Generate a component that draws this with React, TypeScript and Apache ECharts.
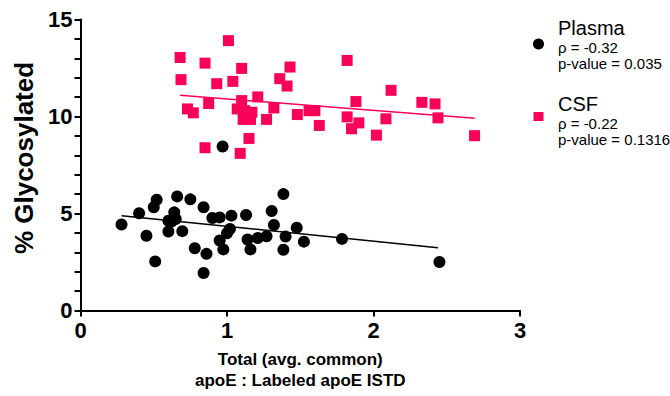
import React, { useEffect, useRef } from "react";
import * as echarts from "echarts";

const plasmaX = [0.28, 0.40, 0.45, 0.51, 0.50, 0.52, 0.60, 0.60, 0.64, 0.65, 0.62, 0.66, 0.695, 0.75, 0.78, 0.84, 0.86, 0.84, 0.90, 0.95, 0.95, 0.975, 1.02, 1.00, 1.03, 1.13, 1.14, 1.16, 1.21, 1.27, 1.305, 1.32, 1.385, 1.40, 1.385, 1.476, 1.525, 1.785, 2.45, 0.97];
const plasmaY = [4.43, 5.01, 3.85, 2.53, 5.32, 5.71, 4.07, 4.63, 5.06, 4.72, 4.58, 5.88, 4.09, 5.73, 3.21, 5.32, 2.92, 1.93, 4.77, 4.80, 3.61, 3.15, 4.20, 3.98, 4.89, 4.92, 3.66, 3.15, 3.74, 3.83, 5.13, 4.41, 6.0, 3.81, 3.13, 4.27, 3.55, 3.69, 2.5, 8.45];

const csfX = [0.68, 1.01, 0.85, 1.10, 0.686, 0.93, 1.04, 1.36, 1.41, 1.43, 0.73, 0.77, 0.875, 1.21, 1.10, 1.07, 1.12, 1.17, 1.11, 1.16, 1.27, 1.32, 0.85, 1.15, 1.09, 1.82, 2.12, 1.88, 2.33, 2.42, 1.48, 1.56, 1.60, 1.63, 1.82, 1.90, 1.85, 2.085, 2.02, 2.44, 2.69];
const csfY = [13.04, 13.91, 12.75, 12.48, 11.9, 11.69, 11.81, 11.95, 11.57, 12.55, 10.39, 10.19, 10.67, 11.01, 10.82, 10.39, 10.30, 10.22, 9.85, 9.85, 9.85, 10.44, 8.39, 8.87, 8.10, 12.89, 11.35, 10.77, 10.73, 10.65, 10.10, 10.30, 10.30, 9.54, 9.98, 9.67, 9.37, 9.88, 9.04, 9.93, 9.01];

const plasmaFitX = [0.28, 2.44];
const plasmaFitY = [4.89, 3.23];
const csfFitX = [0.68, 2.69];
const csfFitY = [11.09, 9.91];

const xTicks = [0, 1, 2, 3];
const yTicks = [0, 5, 10, 15];

const legendItems = [
  { name: "Plasma", rho: "ρ = -0.32", p: "p-value = 0.035" },
  { name: "CSF", rho: "ρ = -0.22", p: "p-value = 0.1316" },
];

const PINK = "#FA0059";
const FONT = "'Liberation Sans', Arial, sans-serif";

const zip = (xs: number[], ys: number[]) => xs.map((x, i) => [x, ys[i]]);

export default function App() {
  const ref = useRef<HTMLDivElement>(null);
  useEffect(() => {
    if (!ref.current) return;
    const chart = echarts.init(ref.current, null, { renderer: "svg" });
    const axisCommon = {
      axisLine: { show: true, lineStyle: { color: "#000", width: 2 } },
      axisTick: { show: true, inside: false, length: 6, lineStyle: { color: "#000", width: 2 } },
      splitLine: { show: false },
    };
    chart.setOption({
      animation: false,
      backgroundColor: "#fff",
      grid: { left: 80.5, right: 150, top: 19.5, bottom: 84, containLabel: false },
      xAxis: {
        type: "value",
        min: xTicks[0],
        max: xTicks[xTicks.length - 1],
        interval: 1,
        ...axisCommon,
        axisLabel: { color: "#000", fontSize: 22, fontWeight: "bold", fontFamily: FONT, margin: 9 },
        name: "Total (avg. common)\napoE : Labeled apoE ISTD",
        nameLocation: "middle",
        nameGap: 38.5,
        nameTextStyle: { color: "#000", fontSize: 17, fontWeight: "bold", fontFamily: FONT, lineHeight: 21, verticalAlign: "top" },
      },
      yAxis: {
        type: "value",
        min: yTicks[0],
        max: yTicks[yTicks.length - 1],
        interval: 5,
        ...axisCommon,
        minorTick: { show: true, splitNumber: 5, length: 6, lineStyle: { color: "#000", width: 2 } },
        axisLabel: { color: "#000", fontSize: 22, fontWeight: "bold", fontFamily: FONT, margin: 8 },
        name: "% Glycosylated",
        nameLocation: "middle",
        nameGap: 39,
        nameTextStyle: { color: "#000", fontSize: 26, fontWeight: "bold", fontFamily: FONT, padding: [0, 0, 0, 14] },
      },
      series: [
        {
          name: "CSF fit",
          type: "line",
          data: zip(csfFitX, csfFitY),
          symbol: "none",
          lineStyle: { color: PINK, width: 1.5 },
          z: 1,
        },
        {
          name: "CSF",
          type: "scatter",
          data: zip(csfX, csfY),
          symbol: "rect",
          symbolSize: 11,
          itemStyle: { color: PINK, opacity: 1 },
          z: 2,
        },
        {
          name: "Plasma fit",
          type: "line",
          data: zip(plasmaFitX, plasmaFitY),
          symbol: "none",
          lineStyle: { color: "#000", width: 1.5 },
          z: 3,
        },
        {
          name: "Plasma",
          type: "scatter",
          data: zip(plasmaX, plasmaY),
          symbol: "circle",
          symbolSize: 12,
          itemStyle: { color: "#000", opacity: 1 },
          z: 4,
        },
      ],
      graphic: [
        { type: "circle", shape: { cx: 538.5, cy: 44, r: 5.5 }, style: { fill: "#000" } },
        { type: "rect", shape: { x: 533.5, y: 112, width: 10, height: 9 }, style: { fill: PINK } },
        ...legendItems.flatMap((it, i) => {
          const base = i === 0 ? 27.5 : 104;
          return [
            { type: "text", x: 558, y: base, style: { text: it.name, fill: "#000", font: `20px ${FONT}`, textVerticalAlign: "middle" } },
            { type: "text", x: 558, y: base + 19.5, style: { text: it.rho, fill: "#000", font: `15px ${FONT}`, textVerticalAlign: "middle" } },
            { type: "text", x: 558, y: base + 35.5, style: { text: it.p, fill: "#000", font: `15px ${FONT}`, textVerticalAlign: "middle" } },
          ];
        }),
      ],
    });
    return () => chart.dispose();
  }, []);
  return <div ref={ref} style={{ width: 670, height: 396, position: "absolute", left: 0, top: 0 }} />;
}
